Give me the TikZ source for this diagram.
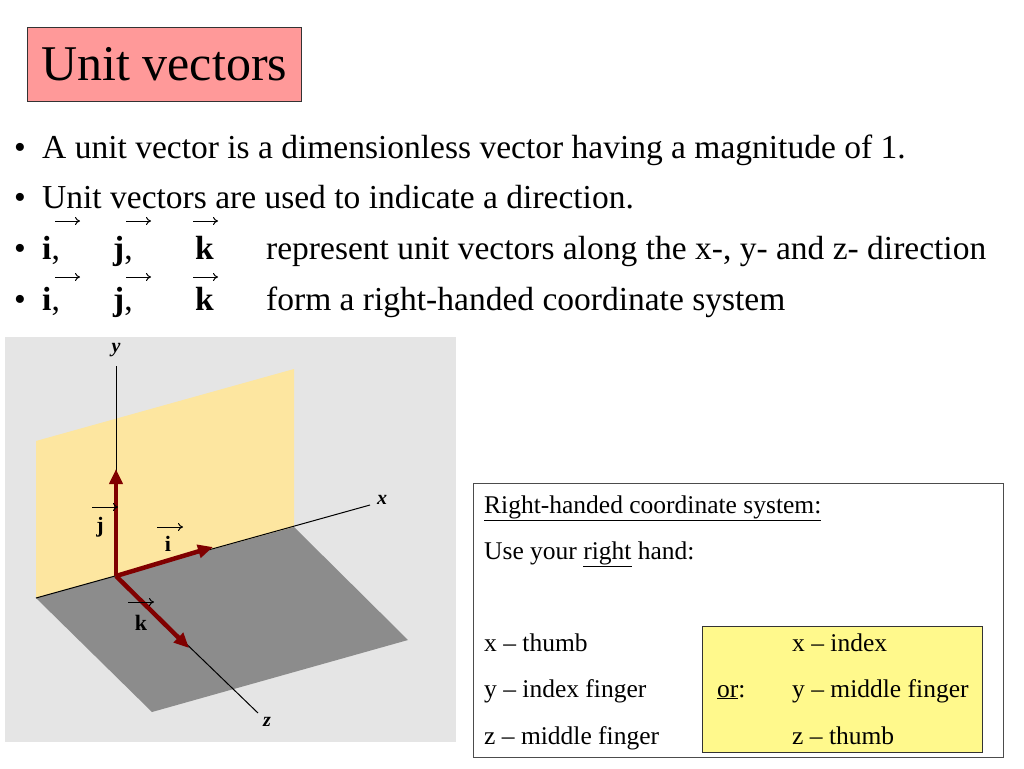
\documentclass[tikz,border=0pt]{standalone}
\usepackage{fontspec}
\setmainfont{Liberation Serif}
\usetikzlibrary{arrows.meta}
\begin{document}
\begin{tikzpicture}[x=1pt,y=-1pt,
  big/.style={anchor=base west,inner sep=0pt,font=\fontsize{33.5}{38}\selectfont},
  sm/.style={anchor=base west,inner sep=0pt,font=\fontsize{25.5}{30}\selectfont},
  lab/.style={inner sep=0pt,font=\fontsize{22}{26}\selectfont\bfseries},
  vec/.style={-{To[length=5pt,width=8pt]},line width=1pt},
  red/.style={line width=4.5pt,draw=red!50!black,-{Triangle[length=15pt,width=13pt]}}]
\useasboundingbox (0,0) rectangle (1024,768);
\fill[white] (0,0) rectangle (1024,768);
% title
\node[draw=black!80,fill=red!40!white,minimum width=274pt,minimum height=74pt,anchor=north west,inner sep=0pt,font=\fontsize{50}{56}\selectfont] (title) at (27,27) {Unit vectors};
% bullets
\foreach \y in {147,197,248,299} \node[big] at (14,\y+11) {•};
\node[big] (b1) at (42,158) {A unit vector is a dimensionless vector having a magnitude of 1.};
\node[big] (b2) at (42,208) {Unit vectors are used to indicate a direction.};
\foreach \yy/\ay in {259/221,310/277}{
  \node[big] at (42,\yy) {\textbf{i},};
  \node[big] at (113,\yy) {\textbf{j},};
  \node[big] at (195,\yy) {\textbf{k}};
  \draw[vec] (55,\ay) -- (80,\ay);
  \draw[vec] (126,\ay) -- (151,\ay);
  \draw[vec] (193,\ay) -- (218,\ay);
}
\node[big] (b3) at (266,259) {represent unit vectors along the x-, y- and z- direction};
\node[big] (b4) at (266,310) {form a right-handed coordinate system};
% 3D figure
\fill[black!10] (5,337) rectangle (456,742);
\fill[yellow!50!orange!35!white] (36,441) -- (294,369) -- (294,527) -- (36,598) -- cycle;
\fill[black!45] (36,598) -- (294,527) -- (408,640) -- (152,712) -- cycle;
\coordinate (O) at (116,576);
\draw[line width=1pt] (36,598) -- (370,505);
\draw[line width=1pt] (O) -- (116,366);
\draw[line width=1pt] (O) -- (258,713);
\node[font=\fontsize{20}{24}\selectfont\bfseries\itshape] (xl) at (382,500) {x};
\node[font=\fontsize{20}{24}\selectfont\bfseries\itshape] (yl) at (116,350) {y};
\node[font=\fontsize{20}{24}\selectfont\bfseries\itshape] (zl) at (267,722) {z};
\draw[red] (O) -- (116,469);
\draw[red] (O) -- (213,547);
\draw[red] (O) -- (189,648);
\node[lab] (jl) at (100,527) {j};
\node[lab] (il) at (168,544) {i};
\node[lab] (kl) at (141,623) {k};
\draw[vec] (92,507) -- (118,507);
\draw[vec] (157,527) -- (183,527);
\draw[vec] (128,602) -- (154,602);
% text box
\draw[black!70,line width=0.8pt] (473,483) rectangle (1003,757);
\fill[yellow!45!white] (702,626) rectangle (982,752);
\draw[black!80,line width=0.8pt] (702,626) rectangle (982,752);
\node[sm] (t1) at (484,513) {\underline{Right-handed coordinate system:}};
\node[sm] (t2) at (484,559) {Use your \underline{right} hand:};
\node[sm] (t3) at (484,651) {x – thumb};
\node[sm] (t4) at (484,697) {y – index finger};
\node[sm] (t5) at (484,744) {z – middle finger};
\node[sm] (o) at (717,697) {\underline{or}:};
\node[sm] (r1) at (792,651) {x – index};
\node[sm] (r2) at (792,697) {y – middle finger};
\node[sm] (r3) at (792,744) {z – thumb};
\end{tikzpicture}
\end{document}
